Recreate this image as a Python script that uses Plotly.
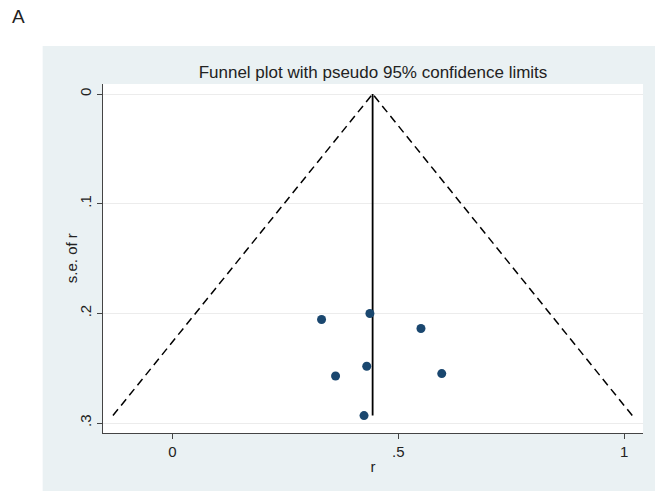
import plotly.graph_objects as go

# ---- data ----
r_values = [0.330, 0.437, 0.550, 0.430, 0.361, 0.596, 0.424]
se_values = [0.2056, 0.2001, 0.2138, 0.2482, 0.2571, 0.2549, 0.2932]
pooled_r = 0.443
z95 = 1.96

x_tickvals = [0, 0.5, 1]
x_ticktext = ["0", ".5", "1"]
y_tickvals = [0, 0.1, 0.2, 0.3]
y_ticktext = ["0", ".1", ".2", ".3"]

title_text = "Funnel plot with pseudo 95% confidence limits"
x_title = "r"
y_title = "s.e. of r"
panel_label = "A"

# ---- derived funnel limits ----
se_max = max(se_values)
lower_x = [pooled_r - z95 * se_max, pooled_r]
upper_x = [pooled_r + z95 * se_max, pooled_r]
limit_y = [se_max, 0]

FONT = "Liberation Sans, Arial, sans-serif"
PANEL = "#eaf1f3"
INK = "#222222"

fig = go.Figure()

fig.add_trace(go.Scatter(x=lower_x, y=limit_y, mode="lines",
                         line=dict(color="black", width=1.5, dash="8px,5px"),
                         hoverinfo="skip", showlegend=False))
fig.add_trace(go.Scatter(x=upper_x, y=limit_y, mode="lines",
                         line=dict(color="black", width=1.5, dash="8px,5px"),
                         hoverinfo="skip", showlegend=False))
fig.add_trace(go.Scatter(x=[pooled_r, pooled_r], y=[0, se_max], mode="lines",
                         line=dict(color="black", width=1.8),
                         hoverinfo="skip", showlegend=False))
fig.add_trace(go.Scatter(x=r_values, y=se_values, mode="markers",
                         marker=dict(color="#1a476f", size=9),
                         showlegend=False))

PL, PW, PB, PH = 103.3, 539.7, 432.7, 348.7  # plot area geometry (px)

# panel background and white plot region
fig.add_shape(type="rect", xref="paper", yref="paper",
              x0=(43 - PL) / PW, x1=(655 - PL) / PW,
              y0=(PB - 491) / PH, y1=(PB - 46) / PH,
              fillcolor=PANEL, line=dict(width=0), layer="below")
fig.add_shape(type="rect", xref="paper", yref="paper",
              x0=0, x1=1, y0=0, y1=1,
              fillcolor="white", line=dict(width=0), layer="below")

fig.update_layout(
    width=659, height=491,
    margin=dict(l=103.3, r=16, t=84, b=58.3),
    paper_bgcolor="white",
    plot_bgcolor="white",
    font=dict(family=FONT, color=INK, size=15),
    title=dict(text=title_text, x=(373 / 659), xanchor="center",
               y=1 - 72 / 491, yanchor="middle",
               font=dict(family=FONT, size=17, color=INK)),
    showlegend=False,
)

fig.update_xaxes(
    range=[-0.1537, 1.0414],
    tickvals=x_tickvals, ticktext=x_ticktext,
    ticks="outside", ticklen=5, tickcolor="#444", tickwidth=1,
    showline=True, linecolor="#444", linewidth=1,
    showgrid=False, zeroline=False,
    tickfont=dict(size=15, color=INK),
    title=dict(text=x_title, font=dict(size=15, color=INK), standoff=2),
)
fig.update_yaxes(
    range=[0.3091, -0.00913],
    tickvals=y_tickvals, ticktext=y_ticktext, tickangle=-90,
    ticks="outside", ticklen=5, tickcolor="#444", tickwidth=1,
    showline=True, linecolor="#444", linewidth=1,
    showgrid=True, gridcolor="#ececec", gridwidth=1, zeroline=False,
    tickfont=dict(size=15, color=INK),
)

fig.add_annotation(text=y_title, xref="paper", yref="paper",
                   x=(72 - PL) / PW, y=0.5, textangle=-90,
                   xanchor="center", yanchor="middle", showarrow=False,
                   font=dict(family=FONT, size=15, color=INK))

fig.add_annotation(text=panel_label, xref="paper", yref="paper",
                   x=(19 - PL) / PW, y=(PB - 17) / PH,
                   xanchor="center", yanchor="middle", showarrow=False,
                   font=dict(family=FONT, size=19, color=INK))

fig.write_html("out.html")
